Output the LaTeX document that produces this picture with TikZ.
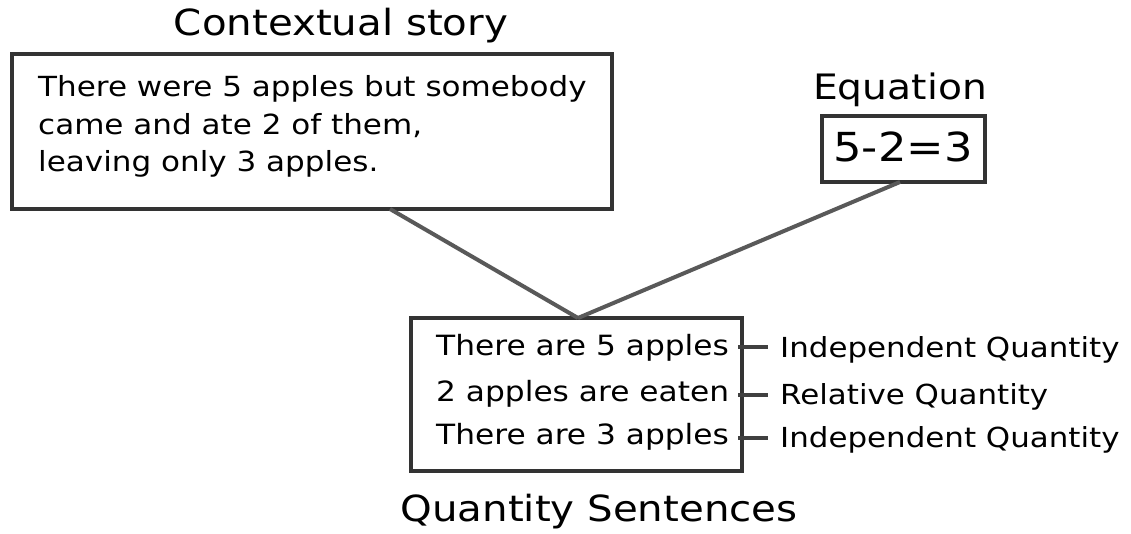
\documentclass[tikz,border=0pt]{standalone}
\usepackage{fontspec}
\setmainfont[FakeStretch=1.12]{DejaVu Sans}
\begin{document}
\begin{tikzpicture}[x=1pt,y=-1pt,
  box/.style={draw=black!80, line width=4pt, inner sep=0pt},
  link/.style={draw=black!65, line width=4pt},
  tick/.style={draw=black!75, line width=3.5pt},
  title/.style={font=\fontsize{36}{42}\selectfont, inner sep=0pt, anchor=base},
  body/.style={font=\fontsize{27.7}{37.5}\selectfont, inner sep=0pt, anchor=base west},
  row/.style={font=\fontsize{27.9}{34}\selectfont, inner sep=0pt, anchor=base west},
  tag/.style={font=\fontsize{27.6}{34}\selectfont, inner sep=0pt, anchor=base west}]
\useasboundingbox (0,0) rectangle (1131,534);
% story box and its title
\node[box, minimum width=600pt, minimum height=155pt] (story) at (312,131.5) {};
\node[title] (storyT) at (341,36) {Contextual story};
\node[body] (s1) at (38,97) {There were 5 apples but somebody};
\node[body] (s2) at (38,135) {came and ate 2 of them,};
\node[body] (s3) at (38,172) {leaving only 3 apples.};
% equation box and its title
\node[box, minimum width=163pt, minimum height=66pt] (eq) at (903.5,149) {};
\node[title, font=\fontsize{35}{42}\selectfont] (eqT) at (900,100) {Equation};
\node[title, font=\fontsize{40}{46}\selectfont] (eqX) at (903,162) {5-2=3};
% quantity box and its title
\node[box, minimum width=331pt, minimum height=153pt] (qs) at (576.5,394.5) {};
\node[title] (qsT) at (599,521) {Quantity Sentences};
\node[row] (q1) at (436,355) {There are 5 apples};
\node[row] (q2) at (436,401.5) {2 apples are eaten};
\node[row] (q3) at (436,444) {There are 3 apples};
% kind of each quantity
\node[tag] (t1) at (780,357) {Independent Quantity};
\node[tag] (t2) at (780,404) {Relative Quantity};
\node[tag] (t3) at (780,447) {Independent Quantity};
\coordinate (e1) at (738,347);
\coordinate (e2) at (738,395);
\coordinate (e3) at (738,438);
\draw[tick] (e1) -- (e1 -| 768,0);
\draw[tick] (e2) -- (e2 -| 768,0);
\draw[tick] (e3) -- (e3 -| 768,0);
% connectors
\coordinate (top) at (578,318);
\draw[link] (390,209) -- (top);
\draw[link] (900,182) -- (top);
\end{tikzpicture}
\end{document}
